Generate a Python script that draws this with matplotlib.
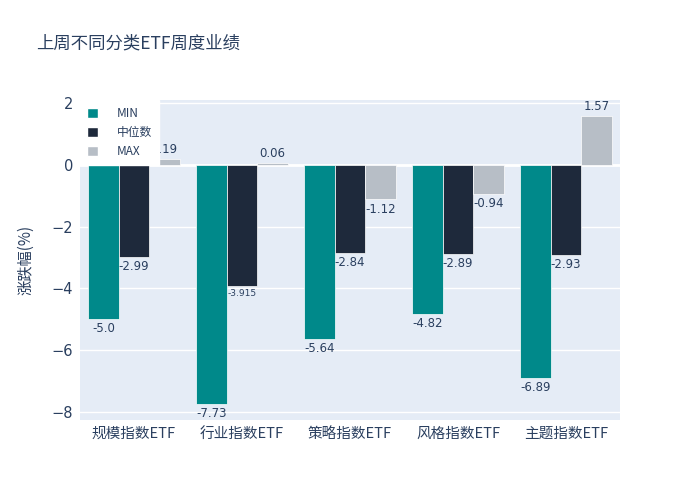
import numpy as np
import matplotlib
matplotlib.use("Agg")
import matplotlib.pyplot as plt
from matplotlib.patches import Patch

plt.rcParams['font.family'] = ['Noto Sans CJK SC', 'DejaVu Sans']

categories = ["规模指数ETF", "行业指数ETF", "策略指数ETF", "风格指数ETF", "主题指数ETF"]
series_names = ["MIN", "中位数", "MAX"]
min_vals = [-5.0, -7.73, -5.64, -4.82, -6.89]
median_vals = [-2.99, -3.915, -2.84, -2.89, -2.93]
max_vals = [0.19, 0.06, -1.12, -0.94, 1.57]
min_labels = ["-5.0", "-7.73", "-5.64", "-4.82", "-6.89"]
median_labels = ["-2.99", "-3.915", "-2.84", "-2.89", "-2.93"]
max_labels = ["0.19", "0.06", "-1.12", "-0.94", "1.57"]
colors = ["#00898a", "#1e293b", "#b7bec6"]
text_color = "#2a3f5f"

fig = plt.figure(figsize=(7, 5), dpi=100)
ax = fig.add_axes([80 / 700, 80 / 500, 540 / 700, 320 / 500])
ax.set_facecolor("#e5ecf6")

x = np.arange(len(categories))
width = 0.283
data = [min_vals, median_vals, max_vals]
labels = [min_labels, median_labels, max_labels]
for i, (vals, labs) in enumerate(zip(data, labels)):
    pos = x + (i - 1) * width
    ax.bar(pos, vals, width=width, color=colors[i], edgecolor="white",
           linewidth=0.5, zorder=3)
    for p, v, t in zip(pos, vals, labs):
        fs = 6.5 if t == "-3.915" else 8.5
        off = 0.1 if v >= 0 else -0.1
        ax.text(p, v + off, t, ha="center", va="bottom" if v >= 0 else "top",
                fontsize=fs, color=text_color, zorder=4,
                family=['DejaVu Sans'])

ax.set_xlim(-0.5, 4.5)
ax.set_ylim(-8.26, 2.1)
ax.set_yticks([-8, -6, -4, -2, 0, 2])
ax.set_yticklabels(["−8", "−6", "−4", "−2", "0", "2"], family=['DejaVu Sans'])
ax.set_xticks(x)
ax.set_xticklabels(categories)
ax.tick_params(axis="both", length=0, labelsize=10.5, colors=text_color, pad=5)
ax.grid(axis="y", color="white", linewidth=1, zorder=0)
ax.axhline(0, color="white", linewidth=2, zorder=2)
for s in ax.spines.values():
    s.set_visible(False)
ax.set_ylabel("涨跌幅(%)", fontsize=11, color=text_color, labelpad=12)

handles = [Patch(facecolor=c, edgecolor="white", label=n) for c, n in zip(colors, series_names)]
leg = ax.legend(handles=handles, loc="upper left", bbox_to_anchor=(0, 1),
                frameon=True, fancybox=False, fontsize=8.5, labelcolor=text_color,
                handlelength=0.9, handleheight=0.9, handletextpad=1.6,
                borderpad=0.6, labelspacing=0.5, borderaxespad=0)
leg.get_frame().set_facecolor("white")
leg.get_frame().set_edgecolor("white")
leg.get_frame().set_alpha(1)
leg.set_zorder(5)

fig.text(36 / 700, 1 - 44 / 500, "上周不同分类ETF周度业绩", fontsize=12.5,
         color=text_color, va="center", ha="left")

fig.savefig("out.png", dpi=100, facecolor="white")
